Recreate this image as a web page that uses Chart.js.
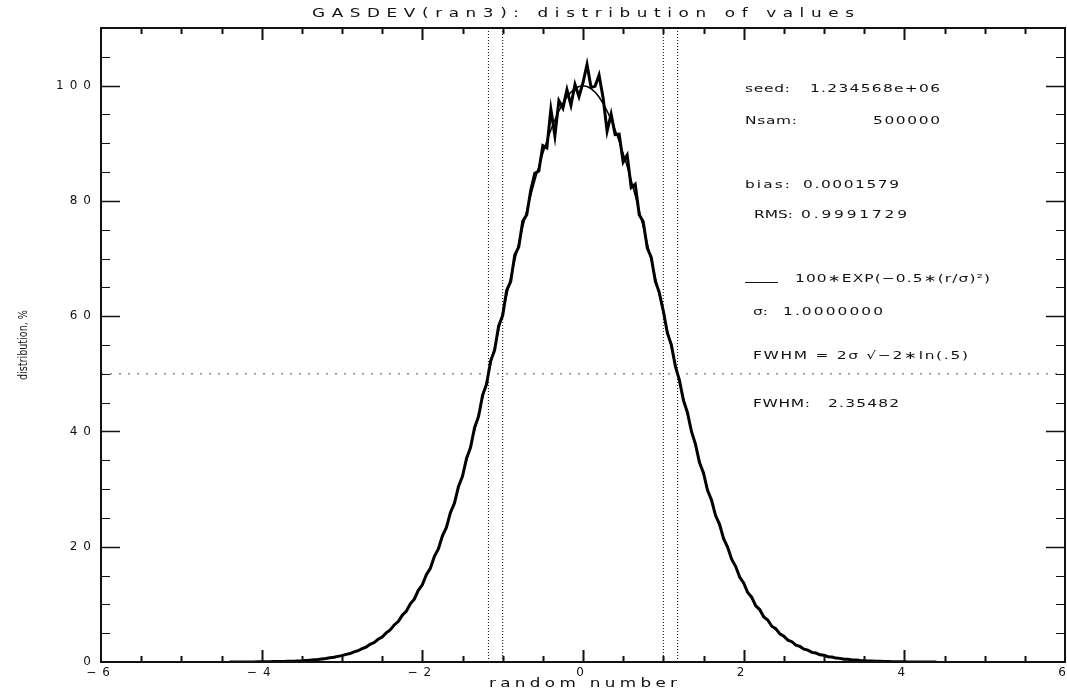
<!DOCTYPE html>
<html>
<head>
<meta charset="utf-8">
<title>GASDEV(ran3): distribution of values</title>
<script src="https://cdn.jsdelivr.net/npm/chart.js@4.4.1/dist/chart.umd.min.js"></script>
<style>
  html, body { margin: 0; padding: 0; background: #fff; overflow: hidden; }
  #wrap { width: 1067px; height: 691px; }
</style>
</head>
<body>
<div id="wrap"><canvas id="chart" width="1067" height="691"></canvas></div>
<script>
// --- data ---

// histogram of the samples, bin centres from -4.40 to 4.40 every 0.05 (peak normalised to ~100)
const histStart = -4.40;
const histStep = 0.05;
const histValues = [
    0.00, 0.01, 0.01, 0.01, 0.01, 0.02, 0.02, 0.03, 0.03, 0.05,
    0.05, 0.07, 0.07, 0.10, 0.11, 0.14, 0.15, 0.19, 0.22, 0.27,
    0.32, 0.38, 0.43, 0.53, 0.59, 0.72, 0.81, 0.98, 1.10, 1.32,
    1.47, 1.76, 1.96, 2.33, 2.59, 3.06, 3.37, 3.95, 4.35, 5.06,
    5.55, 6.43, 7.02, 8.10, 8.80, 10.08, 10.90, 12.44, 13.38, 15.15,
    16.25, 18.35, 19.60, 21.90, 23.35, 25.95, 27.55, 30.45, 32.20, 35.30,
    37.20, 40.65, 42.60, 46.30, 48.20, 52.25, 54.10, 58.30, 60.10, 64.50,
    66.00, 70.60, 72.00, 76.50, 77.60, 81.90, 84.80, 85.20, 89.60, 89.20,
    95.90, 91.30, 97.40, 96.10, 99.30, 96.60, 100.20, 98.10,
    100.50,
    103.68, 99.70, 99.88, 101.82, 97.92, 92.10, 95.06, 91.51, 91.57, 86.75,
    87.96, 82.30, 82.90, 77.60, 76.40, 71.80, 70.20, 66.10, 64.10, 60.90,
    57.10, 55.00, 51.30, 48.90, 45.40, 43.30, 40.00, 37.80, 34.60, 32.80,
    29.80, 28.10, 25.40, 23.90, 21.40, 19.95, 17.85, 16.60, 14.75, 13.70,
    12.05, 11.25, 9.75, 9.10, 7.80, 7.28, 6.20, 5.78, 4.88, 4.48,
    3.80, 3.52, 2.92, 2.70, 2.22, 2.06, 1.67, 1.56, 1.25, 1.16,
    0.92, 0.86, 0.68, 0.63, 0.49, 0.46, 0.36, 0.33, 0.25, 0.23,
    0.17, 0.16, 0.12, 0.12, 0.09, 0.08, 0.06, 0.05, 0.04, 0.03,
    0.02, 0.02, 0.02, 0.01, 0.01, 0.01, 0.00, 0.00
];

// fitted curve 100*EXP(-0.5*(r/sigma)^2), read every 0.1 from -4.5 to 4.5
const fitStart = -4.5;
const fitStep = 0.1;
const fitValues = [
    0.00, 0.00, 0.01, 0.01, 0.02, 0.03, 0.05, 0.07, 0.11, 0.15,
    0.22, 0.31, 0.43, 0.60, 0.82, 1.11, 1.49, 1.98, 2.61, 3.40,
    4.39, 5.61, 7.10, 8.89, 11.03, 13.53, 16.44, 19.79, 23.57, 27.80,
    32.47, 37.53, 42.96, 48.68, 54.61, 60.65, 66.69, 72.61, 78.27, 83.53,
    88.25, 92.31, 95.60, 98.02, 99.50,
    100.00,
    99.50, 98.02, 95.60, 92.31, 88.25, 83.53, 78.27, 72.61, 66.69, 60.65,
    54.61, 48.68, 42.96, 37.53, 32.47, 27.80, 23.57, 19.79, 16.44, 13.53,
    11.03, 8.89, 7.10, 5.61, 4.39, 3.40, 2.61, 1.98, 1.49, 1.11,
    0.82, 0.60, 0.43, 0.31, 0.22, 0.15, 0.11, 0.07, 0.05, 0.03,
    0.02, 0.01, 0.01, 0.00, 0.00
];

// reference lines: +-sigma, +-FWHM/2, half maximum
const sigmaLines = [-1, 1];
const fwhmLines = [-1.17741, 1.17741];
const halfMax = 50;

// axes
const xTickValues = [-6, -4, -2, 0, 2, 4, 6];
const yTickValues = [0, 20, 40, 60, 80, 100];
const xRange = [-6, 6];
const yRange = [0, 110];

// statistics shown on the right
const seed = '1.234568e+06';
const nsam = '500000';
const bias = '0.0001579';
const rms = '0.9991729';
const sigma = '1.0000000';
const fwhm = '2.35482';

// --- drawing ---

const FONT = '"DejaVu Sans", Verdana, sans-serif';
const INK = '#111';

// wide, spaced text in the style of the plot's stroke font
function spacedText(ctx, text, x, y, width, size, align) {
    const sx = 1.4;
    ctx.save();
    ctx.font = size + 'px ' + FONT;
    ctx.letterSpacing = '0px';
    const w0 = ctx.measureText(text).width * sx;
    const n = [...text].length;
    const sp = n > 1 ? Math.max(0, (width - w0) / (n - 1)) : 0;
    const x0 = align === 'center' ? x - width / 2 : (align === 'right' ? x - width : x);
    ctx.translate(x0, y);
    ctx.scale(sx, 1);
    ctx.letterSpacing = (sp / sx).toFixed(2) + 'px';
    ctx.textAlign = 'left';
    ctx.textBaseline = 'middle';
    ctx.fillText(text, 0, 0);
    ctx.restore();
}

const framePlugin = {
    id: 'frame',
    beforeDraw(chart) {
        chart.ctx.letterSpacing = '6px';   // wide tick labels
    },
    beforeDatasetsDraw(chart) {
        chart.ctx.letterSpacing = '0px';
    },
    afterDraw(chart) {
        const ctx = chart.ctx;
        const a = chart.chartArea;
        const xs = chart.scales.x, ys = chart.scales.y;
        ctx.save();
        ctx.strokeStyle = INK;

        // box
        ctx.lineWidth = 2;
        ctx.strokeRect(a.left, a.top, a.right - a.left, a.bottom - a.top);

        // y ticks, left and right, major every 20, minor every 5
        for (let k = 1; k <= 22; k++) {
            const v = k * 5;
            const major = v % 20 === 0;
            const len = major ? 19 : 9;
            const py = Math.round(ys.getPixelForValue(v)) + 0.5;
            ctx.lineWidth = major ? 1.5 : 1.2;
            ctx.beginPath();
            ctx.moveTo(a.left, py); ctx.lineTo(a.left + len, py);
            ctx.moveTo(a.right, py); ctx.lineTo(a.right - len, py);
            ctx.stroke();
        }
        // x ticks, top and bottom, major every 2, minor every 0.5
        for (let k = -11; k <= 11; k++) {
            const v = k * 0.5;
            const major = k % 4 === 0;
            const len = major ? 12 : 6;
            const px = Math.round(xs.getPixelForValue(v)) + 0.5;
            ctx.lineWidth = 2;
            ctx.beginPath();
            ctx.moveTo(px, a.bottom); ctx.lineTo(px, a.bottom - len);
            ctx.moveTo(px, a.top); ctx.lineTo(px, a.top + len);
            ctx.stroke();
        }

        ctx.fillStyle = INK;
        // title and axis titles
        spacedText(ctx, 'GASDEV(ran3): distribution of values', (a.left + a.right) / 2, 14, 542, 12, 'center');
        spacedText(ctx, 'random number', (a.left + a.right) / 2, 684, 188, 12, 'center');

        ctx.save();
        ctx.translate(24, 345);
        ctx.rotate(-Math.PI / 2);
        ctx.font = '12px "DejaVu Sans Condensed", "DejaVu Sans", sans-serif';
        ctx.textAlign = 'center';
        ctx.textBaseline = 'middle';
        ctx.fillText('distribution, %', 0, 0, 70);
        ctx.restore();

        // statistics block
        const s = 11;
        spacedText(ctx, 'seed:', 745, 89, 45, s);
        spacedText(ctx, seed, 810, 89, 130, s);
        spacedText(ctx, 'Nsam:', 745, 121, 52, s);
        spacedText(ctx, nsam, 940, 121, 67, s, 'right');
        spacedText(ctx, 'bias:', 745, 185, 45, s);
        spacedText(ctx, bias, 803, 185, 96, s);
        spacedText(ctx, 'RMS:', 754, 215, 39, s);
        spacedText(ctx, rms, 801, 215, 106, s);

        ctx.lineWidth = 1;
        ctx.beginPath();
        ctx.moveTo(745, 282.5); ctx.lineTo(778, 282.5);
        ctx.stroke();
        spacedText(ctx, '100\u2217EXP(\u22120.5\u2217(r/\u03c3)\u00b2)', 795, 279, 195, s);
        spacedText(ctx, '\u03c3:', 753, 312, 15, s);
        spacedText(ctx, sigma, 783, 312, 100, s);
        spacedText(ctx, 'FWHM = 2\u03c3 \u221a\u22122\u2217ln(.5)', 753, 356, 215, s);
        spacedText(ctx, 'FWHM:', 753, 404, 57, s);
        spacedText(ctx, fwhm, 828, 404, 71, s);

        ctx.restore();
    }
};

const histData = histValues.map((v, i) => ({ x: histStart + i * histStep, y: v }));
const fitData = fitValues.map((v, i) => ({ x: fitStart + i * fitStep, y: v }));

function vLine(x) {
    return {
        data: [{ x: x, y: yRange[0] }, { x: x, y: yRange[1] }],
        borderColor: '#000', borderWidth: 1, borderDash: [1, 2],
        pointRadius: 0
    };
}

const datasets = [
    {
        label: 'histogram',
        data: histData,
        borderColor: '#000',
        borderWidth: 3,
        pointRadius: 0
    },
    {
        label: 'fit',
        data: fitData,
        borderColor: '#000',
        borderWidth: 1.5,
        tension: 0.3,
        pointRadius: 0
    },
    ...sigmaLines.map(vLine),
    ...fwhmLines.map(vLine),
    {
        data: [{ x: xRange[0], y: halfMax }, { x: xRange[1], y: halfMax }],
        borderColor: '#888', borderWidth: 1.5, borderDash: [2, 7],
        pointRadius: 0
    }
];

new Chart(document.getElementById('chart'), {
    type: 'line',
    data: { datasets },
    options: {
        responsive: false,
        animation: false,
        devicePixelRatio: 1,
        layout: { padding: { top: 28, right: 2, left: 0, bottom: 0 } },
        plugins: { legend: { display: false }, tooltip: { enabled: false } },
        scales: {
            x: {
                type: 'linear',
                min: xRange[0], max: xRange[1],
                grid: { display: false, drawTicks: false },
                border: { display: false },
                afterBuildTicks: (scale) => { scale.ticks = xTickValues.map(v => ({ value: v })); },
                afterFit: (scale) => { scale.height = 29; scale.paddingLeft = 0; scale.paddingRight = 0; },
                ticks: {
                    padding: 4,
                    color: INK,
                    font: { family: FONT, size: 12 },
                    maxRotation: 0,
                    callback: (v) => v < 0 ? '\u2212' + Math.abs(v) : String(v)
                }
            },
            y: {
                type: 'linear',
                min: yRange[0], max: yRange[1],
                grid: { display: false, drawTicks: false },
                border: { display: false },
                afterBuildTicks: (scale) => { scale.ticks = yTickValues.map(v => ({ value: v })); },
                afterFit: (scale) => { scale.width = 101; },
                ticks: {
                    padding: 4,
                    color: INK,
                    font: { family: FONT, size: 12 }
                }
            }
        }
    },
    plugins: [framePlugin]
});
</script>
</body>
</html>
